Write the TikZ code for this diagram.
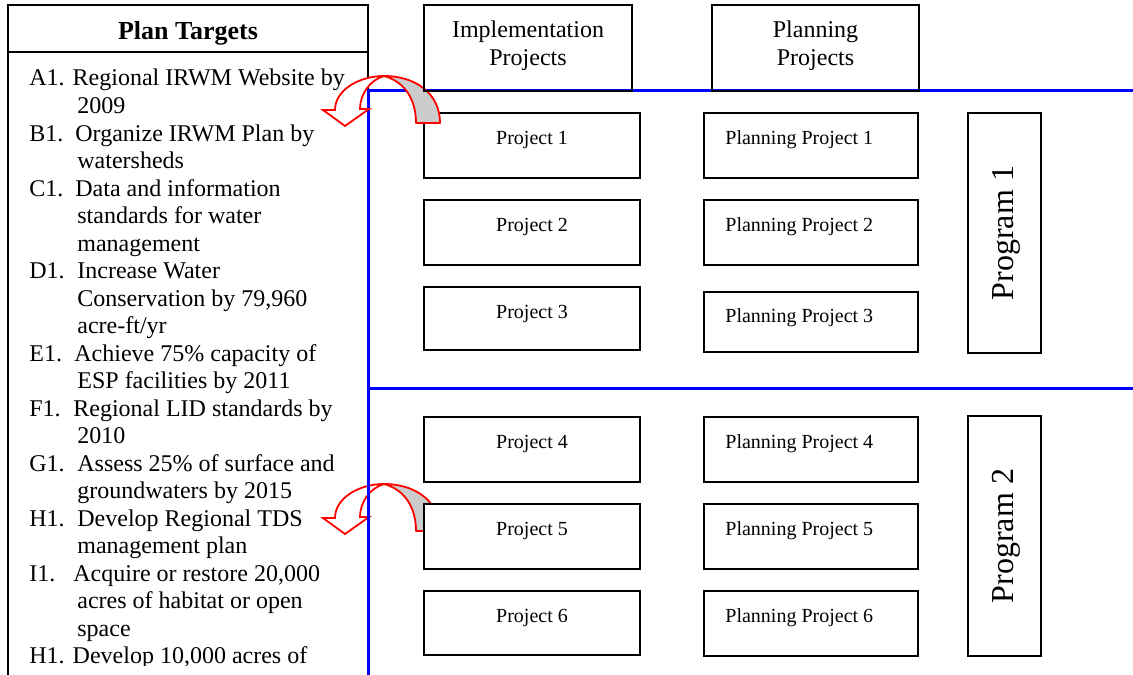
\documentclass[tikz,border=0pt]{standalone}
\usepackage{fontspec}
\setmainfont{Liberation Serif}
\begin{document}
\begin{tikzpicture}[x=0.5pt,y=-0.5pt,
  boxline/.style={draw=black,line width=1pt},
  pbox/.style={boxline,fill=white,rectangle,inner sep=0pt,outer sep=0pt},
  hbox/.style={boxline,rectangle,inner sep=0pt,outer sep=0pt},
  blueline/.style={draw=blue,line width=1.5pt},
  arrowback/.style={fill=gray!40,draw=red,line width=0.9pt,line join=round},
  arrowfront/.style={fill=white,draw=red,line width=0.9pt,line join=miter},
  ltext/.style={anchor=base west,inner sep=0pt,font=\fontsize{12}{13.75}\selectfont},
  htext/.style={anchor=base,inner sep=0pt,font=\fontsize{12}{13.75}\selectfont},
  ptext/.style={anchor=base,inner sep=0pt,font=\fontsize{10}{12}\selectfont},
  pltext/.style={anchor=base west,inner sep=0pt,font=\fontsize{10}{12}\selectfont},
  prtext/.style={rotate=90,inner sep=0pt,font=\fontsize{16}{19}\selectfont},
  curvedarrow/.pic={
    \path[arrowback] (0,0) .. controls (31,0) and (56,17) .. (56,47)
      -- (32,47) .. controls (32,25) and (22,6) .. (0,0) -- cycle;
    \path[arrowfront] (0,0) .. controls (-25,0) and (-49,14) .. (-49,34)
      -- (-61,34) -- (-39,50) -- (-15,33) -- (-24,33)
      .. controls (-24,18) and (-14,4) .. (0,0) -- cycle;
  }
]
\useasboundingbox (0,0) rectangle (1133,674);
\clip (0,0) rectangle (1133,674);
\fill[white] (0,0) rectangle (1133,674);

% left box
\node[hbox,fill=white,minimum width=180pt,minimum height=347.5pt] (targets) at (188,352.5) {};
\draw[boxline] (8,52) -- (368,52);

% bottom curved arrow (under blue line and box)
\pic (arrB) at (384,484) {curvedarrow};

% blue lines
\coordinate (bc1) at (368,91);
\coordinate (bc2) at (1133,91);
\coordinate (bc3) at (368,700);
\coordinate (bc4) at (368,388);
\coordinate (bc5) at (1133,388);
\draw[blueline] (bc2) -- (bc1) -- (bc3);
\draw[blueline] (bc4) -- (bc5);

% project boxes
\node[pbox,minimum width=108pt,minimum height=32.5pt] (p1) at (532,145.5) {};
\node[pbox,minimum width=108pt,minimum height=32.5pt] (p2) at (532,232.5) {};
\node[pbox,minimum width=108pt,minimum height=31.5pt] (p3) at (532,318.5) {};
\node[pbox,minimum width=108pt,minimum height=32.5pt] (p4) at (532,449.5) {};
\node[pbox,minimum width=108pt,minimum height=32.5pt] (p5) at (532,536.5) {};
\node[pbox,minimum width=108pt,minimum height=32pt] (p6) at (532,623) {};

\node[pbox,minimum width=107pt,minimum height=32.5pt] (pp1) at (811,145.5) {};
\node[pbox,minimum width=107pt,minimum height=32.5pt] (pp2) at (811,232.5) {};
\node[pbox,minimum width=107pt,minimum height=30pt] (pp3) at (811,322) {};
\node[pbox,minimum width=107pt,minimum height=32.5pt] (pp4) at (811,449.5) {};
\node[pbox,minimum width=107pt,minimum height=32.5pt] (pp5) at (811,536.5) {};
\node[pbox,minimum width=107pt,minimum height=32.5pt] (pp6) at (811,623.5) {};

\node[pbox,minimum width=36.5pt,minimum height=120pt] (prog1) at (1004.5,233) {};
\node[pbox,minimum width=36.5pt,minimum height=120pt] (prog2) at (1004.5,536) {};

% top curved arrow
\pic (arrA) at (384,76) {curvedarrow};

% header boxes
\node[hbox,minimum width=104pt,minimum height=43pt] (impl) at (528,48) {};
\node[hbox,minimum width=103.5pt,minimum height=43pt] (plan) at (815.5,48) {};

% header texts
\node[anchor=base,inner sep=0pt,font=\fontsize{13}{15}\selectfont\bfseries] (tt) at (188,40) {Plan Targets};
\node[htext] (impl1) at (528,38) {Implementation};
\node[htext] (impl2) at (528,65.5) {Projects};
\node[htext] (plan1) at (815.5,38) {Planning};
\node[htext] (plan2) at (815.5,65.5) {Projects};

% project texts
\node[ptext] (p1t) at (532,144) {Project 1};
\node[ptext] (p2t) at (532,231) {Project 2};
\node[ptext] (p3t) at (532,318) {Project 3};
\node[ptext] (p4t) at (532,448) {Project 4};
\node[ptext] (p5t) at (532,535) {Project 5};
\node[ptext] (p6t) at (532,622) {Project 6};
\node[pltext] (pp1t) at (725,144) {Planning Project 1};
\node[pltext] (pp2t) at (725,231) {Planning Project 2};
\node[pltext] (pp3t) at (725,322.5) {Planning Project 3};
\node[pltext] (pp4t) at (725,448) {Planning Project 4};
\node[pltext] (pp5t) at (725,535) {Planning Project 5};
\node[pltext] (pp6t) at (725,622) {Planning Project 6};
\node[prtext] (prog1t) at (1006,233) {Program 1};
\node[prtext] (prog2t) at (1006,536) {Program 2};

% plan target list
\node[ltext] (l0) at (29,86) {A1. Regional IRWM Website by};
\node[ltext] (l1) at (77,113.5) {2009};
\node[ltext] (l2a) at (29,141) {B1.};
\node[ltext] (l2b) at (75,141) {Organize IRWM Plan by};
\node[ltext] (l3) at (77,168.5) {watersheds};
\node[ltext] (l4a) at (29,196) {C1.};
\node[ltext] (l4b) at (75,196) {Data and information};
\node[ltext] (l5) at (77,223.5) {standards for water};
\node[ltext] (l6) at (77,251) {management};
\node[ltext] (l7a) at (29,278.5) {D1.};
\node[ltext] (l7b) at (77,278.5) {Increase Water};
\node[ltext] (l8) at (77,306) {Conservation by 79,960};
\node[ltext] (l9) at (77,333.5) {acre-ft/yr};
\node[ltext] (l10a) at (29,361) {E1.};
\node[ltext] (l10b) at (74,361) {Achieve 75\% capacity of};
\node[ltext] (l11) at (77,388.5) {ESP facilities by 2011};
\node[ltext] (l12a) at (29,416) {F1.};
\node[ltext] (l12b) at (73,416) {Regional LID standards by};
\node[ltext] (l13) at (77,443.5) {2010};
\node[ltext] (l14a) at (29,471) {G1.};
\node[ltext] (l14b) at (77,471) {Assess 25\% of surface and};
\node[ltext] (l15) at (77,498.5) {groundwaters by 2015};
\node[ltext] (l16a) at (29,526) {H1.};
\node[ltext] (l16b) at (77,526) {Develop Regional TDS};
\node[ltext] (l17) at (77,553.5) {management plan};
\node[ltext] (l18a) at (29,581) {I1.};
\node[ltext] (l18b) at (73,581) {Acquire or restore 20,000};
\node[ltext] (l19) at (77,608.5) {acres of habitat or open};
\node[ltext] (l20) at (77,636) {space};
\begin{scope}
  \clip (10,600) rectangle (366,665.5);
  \node[ltext] (l21) at (29,663.5) {H1. Develop 10,000 acres of};
\end{scope}
\end{tikzpicture}
\end{document}
